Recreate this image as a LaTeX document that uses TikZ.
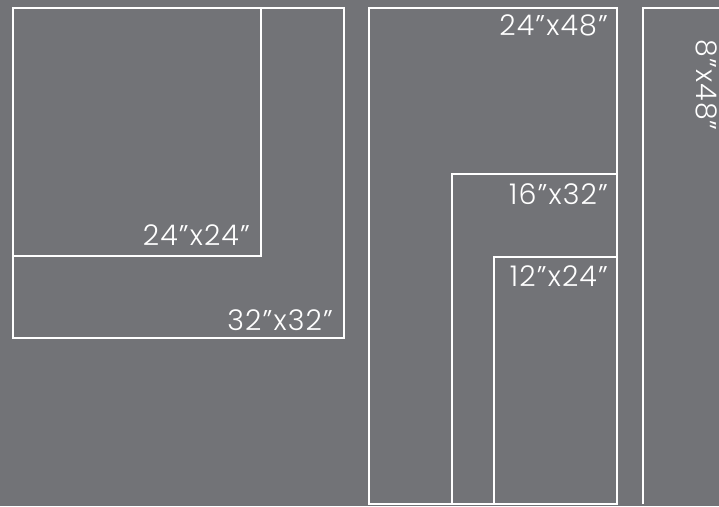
\documentclass[tikz,border=0pt]{standalone}
\usepackage{fontspec}
\setmainfont{Poppins}[UprightFont=* Light, LetterSpace=4]
\usetikzlibrary{positioning}
\definecolor{slate}{RGB}{114,115,119}
\tikzset{
  frame/.style={draw=white, line width=2.4pt},
  size/.style={text=white, font=\fontsize{28.5}{32}\selectfont, inner sep=0pt, anchor=base east},
}

\begin{document}
\begin{tikzpicture}[x=1pt,y=-1pt]
    \useasboundingbox (0,0) rectangle (719,506);
    \fill[slate] (0,0) rectangle (719,506);
    % --- square frames ---
    \draw[frame] (13,8) rectangle (344,338);
    \draw[frame] (13,8) rectangle (261,256);
    \node[size] (sq24) at (250,245) {24"x24"};
    \node[size] (sq32) at (333,330) {32"x32"};
    % --- tall frames, nested from the bottom right ---
    \coordinate (talltop) at (369,8);
    \coordinate (tallcorner) at (617,504);
    \draw[frame] (talltop) rectangle (tallcorner);
    \draw[frame] (452,174) rectangle (tallcorner);
    \draw[frame] (494,257) rectangle (tallcorner);
    \node[size] (tall48) at (608,35) {24"x48"};
    \node[size] (tall32) at (608,204) {16"x32"};
    \node[size] (tall24) at (608,286) {12"x24"};
    % --- the narrow strip, cut by the edge ---
    \draw[frame] (643,504) -- (643,8) -- (740,8);
    \node[text=white, font=\fontsize{28.5}{32}\selectfont, inner sep=0pt, rotate=-90]
      (strip48) at (707,85) {8"x48"};
\end{tikzpicture}
\end{document}
